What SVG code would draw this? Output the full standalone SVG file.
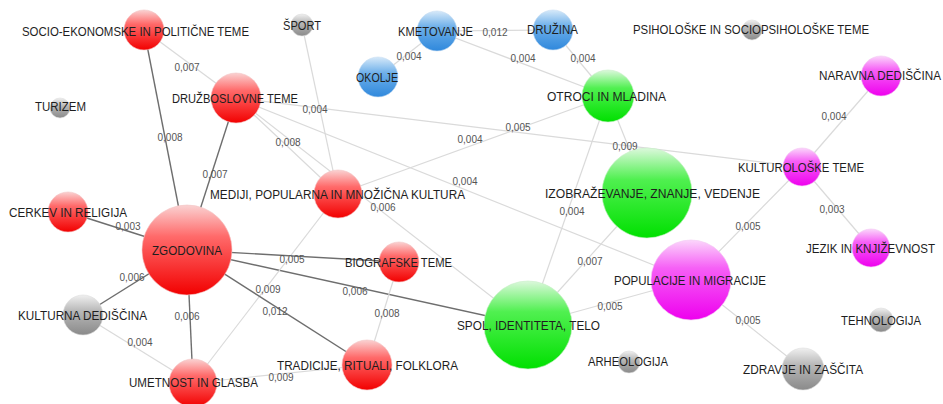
<svg xmlns="http://www.w3.org/2000/svg" width="943" height="404" viewBox="0 0 943 404">
<style>
.bg{fill:#fff}
.lt{stroke:#dadada;stroke-width:1.2;fill:none}
.dk{stroke:#6e6e6e;stroke-width:1.4;fill:none}
.el{font-family:"Liberation Sans",Arial,sans-serif;font-size:10px;fill:#555;text-anchor:middle}
.nl{font-family:"Liberation Sans",Arial,sans-serif;font-size:12px;fill:#1e1e1e}
.red{fill:url(#gRed);stroke:#f4c4c4;stroke-width:0.6}
.grn{fill:url(#gGrn);stroke:#c8f0c8;stroke-width:0.6}
.blu{fill:url(#gBlu);stroke:#c8def4;stroke-width:0.6}
.mag{fill:url(#gMag);stroke:#f4c8f4;stroke-width:0.6}
.gry{fill:url(#gGry);stroke:#dddddd;stroke-width:0.6}
</style>
<defs>
<linearGradient id="gRed" x1="0" y1="0" x2="0" y2="1">
<stop offset="0" stop-color="#fad2d2"/><stop offset="0.35" stop-color="#ff6a6a"/><stop offset="1" stop-color="#f20000"/>
</linearGradient>
<linearGradient id="gGrn" x1="0" y1="0" x2="0" y2="1">
<stop offset="0" stop-color="#dcf8dc"/><stop offset="0.35" stop-color="#50f050"/><stop offset="1" stop-color="#00e000"/>
</linearGradient>
<linearGradient id="gBlu" x1="0" y1="0" x2="0" y2="1">
<stop offset="0" stop-color="#d6e9f9"/><stop offset="0.4" stop-color="#6eb0ea"/><stop offset="1" stop-color="#2f88dc"/>
</linearGradient>
<linearGradient id="gMag" x1="0" y1="0" x2="0" y2="1">
<stop offset="0" stop-color="#fbd6fb"/><stop offset="0.35" stop-color="#f660f6"/><stop offset="1" stop-color="#ee00ee"/>
</linearGradient>
<linearGradient id="gGry" x1="0" y1="0" x2="0" y2="1">
<stop offset="0" stop-color="#f0f0f0"/><stop offset="0.4" stop-color="#b8b8b8"/><stop offset="1" stop-color="#8a8a8a"/>
</linearGradient>
</defs>
<rect class="bg" x="0" y="0" width="943" height="404"/>
<g id="connectors">
<line class="lt" x1="144" y1="30" x2="236" y2="98"/>
<line class="dk" x1="144" y1="30" x2="187" y2="250"/>
<line class="dk" x1="236" y1="98" x2="187" y2="250"/>
<line class="lt" x1="302" y1="25" x2="338" y2="194"/>
<line class="lt" x1="236" y1="98" x2="338" y2="194"/>
<line class="lt" x1="236" y1="98" x2="802" y2="167"/>
<line class="lt" x1="236" y1="98" x2="691" y2="280"/>
<line class="lt" x1="236" y1="98" x2="528" y2="325"/>
<line class="lt" x1="378" y1="77" x2="437" y2="31"/>
<line class="lt" x1="437" y1="31" x2="553" y2="30"/>
<line class="lt" x1="437" y1="31" x2="608" y2="96"/>
<line class="lt" x1="553" y1="30" x2="608" y2="96"/>
<line class="lt" x1="338" y1="194" x2="608" y2="96"/>
<line class="lt" x1="608" y1="96" x2="647" y2="193"/>
<line class="lt" x1="608" y1="96" x2="528" y2="325"/>
<line class="lt" x1="647" y1="193" x2="528" y2="325"/>
<line class="lt" x1="528" y1="325" x2="691" y2="280"/>
<line class="lt" x1="881" y1="76" x2="802" y2="167"/>
<line class="lt" x1="802" y1="167" x2="871" y2="248"/>
<line class="lt" x1="802" y1="167" x2="691" y2="280"/>
<line class="lt" x1="691" y1="280" x2="803" y2="369"/>
<line class="dk" x1="68" y1="212" x2="187" y2="250"/>
<line class="dk" x1="83" y1="315" x2="187" y2="250"/>
<line class="dk" x1="187" y1="250" x2="193" y2="383"/>
<line class="lt" x1="83" y1="315" x2="193" y2="383"/>
<line class="dk" x1="187" y1="250" x2="399" y2="262"/>
<line class="dk" x1="187" y1="250" x2="528" y2="325"/>
<line class="lt" x1="193" y1="383" x2="338" y2="194"/>
<line class="dk" x1="187" y1="250" x2="367" y2="365"/>
<line class="lt" x1="399" y1="262" x2="367" y2="365"/>
<line class="lt" x1="193" y1="383" x2="367" y2="365"/>
<text class="el" x="187" y="71">0,007</text>
<text class="el" x="170" y="141">0,008</text>
<text class="el" x="215" y="178">0,007</text>
<text class="el" x="315" y="113">0,004</text>
<text class="el" x="288" y="146">0,008</text>
<text class="el" x="518" y="131">0,005</text>
<text class="el" x="465" y="185">0,004</text>
<text class="el" x="383" y="211">0,006</text>
<text class="el" x="409" y="60">0,004</text>
<text class="el" x="495" y="36">0,012</text>
<text class="el" x="523" y="62">0,004</text>
<text class="el" x="583" y="62">0,004</text>
<text class="el" x="470" y="143">0,004</text>
<text class="el" x="625" y="150">0,009</text>
<text class="el" x="572" y="215">0,004</text>
<text class="el" x="590" y="265">0,007</text>
<text class="el" x="610" y="310">0,005</text>
<text class="el" x="834" y="120">0,004</text>
<text class="el" x="832" y="213">0,003</text>
<text class="el" x="748" y="230">0,005</text>
<text class="el" x="748" y="324">0,005</text>
<text class="el" x="128" y="230">0,003</text>
<text class="el" x="132" y="281">0,006</text>
<text class="el" x="187" y="320">0,006</text>
<text class="el" x="140" y="346">0,004</text>
<text class="el" x="292" y="263">0,005</text>
<text class="el" x="355" y="295">0,006</text>
<text class="el" x="268" y="293">0,009</text>
<text class="el" x="275" y="315">0,012</text>
<text class="el" x="387" y="317">0,008</text>
<text class="el" x="281" y="381">0,009</text>
</g>
<g id="n-socio"><circle class="red" cx="144" cy="30" r="20"/><text class="nl" x="22" y="35.5" textLength="227" lengthAdjust="spacingAndGlyphs">SOCIO-EKONOMSKE IN POLITIČNE TEME</text></g>
<g id="n-druzboslovne"><circle class="red" cx="236" cy="98" r="25"/><text class="nl" x="172" y="102.5" textLength="126" lengthAdjust="spacingAndGlyphs">DRUŽBOSLOVNE TEME</text></g>
<g id="n-turizem"><circle class="gry" cx="60" cy="108" r="10"/><text class="nl" x="35" y="110.5" textLength="51" lengthAdjust="spacingAndGlyphs">TURIZEM</text></g>
<g id="n-sport"><circle class="gry" cx="302" cy="25" r="11"/><text class="nl" x="283" y="30" textLength="38" lengthAdjust="spacingAndGlyphs">ŠPORT</text></g>
<g id="n-kmetovanje"><circle class="blu" cx="437" cy="31" r="20"/><text class="nl" x="398" y="36" textLength="75" lengthAdjust="spacingAndGlyphs">KMETOVANJE</text></g>
<g id="n-okolje"><circle class="blu" cx="378" cy="77" r="20"/><text class="nl" x="356" y="81.5" textLength="42" lengthAdjust="spacingAndGlyphs">OKOLJE</text></g>
<g id="n-druzina"><circle class="blu" cx="553" cy="30" r="20"/><text class="nl" x="527" y="34" textLength="51" lengthAdjust="spacingAndGlyphs">DRUŽINA</text></g>
<g id="n-psiholoske"><circle class="gry" cx="752" cy="30" r="10"/><text class="nl" x="633" y="34" textLength="236" lengthAdjust="spacingAndGlyphs">PSIHOLOŠKE IN SOCIOPSIHOLOŠKE TEME</text></g>
<g id="n-otroci"><circle class="grn" cx="608" cy="96" r="26"/><text class="nl" x="547" y="100.5" textLength="119" lengthAdjust="spacingAndGlyphs">OTROCI IN MLADINA</text></g>
<g id="n-naravna"><circle class="mag" cx="881" cy="76" r="20"/><text class="nl" x="819" y="79.5" textLength="122" lengthAdjust="spacingAndGlyphs">NARAVNA DEDIŠČINA</text></g>
<g id="n-kulturoloske"><circle class="mag" cx="802" cy="167" r="19"/><text class="nl" x="738" y="171.5" textLength="126" lengthAdjust="spacingAndGlyphs">KULTUROLOŠKE TEME</text></g>
<g id="n-mediji"><circle class="red" cx="338" cy="194" r="24"/><text class="nl" x="210" y="198.5" textLength="255" lengthAdjust="spacingAndGlyphs">MEDIJI, POPULARNA IN MNOŽIČNA KULTURA</text></g>
<g id="n-izobrazevanje"><circle class="grn" cx="647" cy="193" r="45"/><text class="nl" x="545" y="197.5" textLength="215" lengthAdjust="spacingAndGlyphs">IZOBRAŽEVANJE, ZNANJE, VEDENJE</text></g>
<g id="n-cerkev"><circle class="red" cx="68" cy="212" r="20"/><text class="nl" x="9" y="216.5" textLength="118" lengthAdjust="spacingAndGlyphs">CERKEV IN RELIGIJA</text></g>
<g id="n-zgodovina"><circle class="red" cx="187" cy="250" r="45"/><text class="nl" x="152" y="254.5" textLength="70" lengthAdjust="spacingAndGlyphs">ZGODOVINA</text></g>
<g id="n-biografske"><circle class="red" cx="399" cy="262" r="20"/><text class="nl" x="345" y="266.5" textLength="107" lengthAdjust="spacingAndGlyphs">BIOGRAFSKE TEME</text></g>
<g id="n-jezik"><circle class="mag" cx="871" cy="248" r="19"/><text class="nl" x="806" y="252.5" textLength="129" lengthAdjust="spacingAndGlyphs">JEZIK IN KNJIŽEVNOST</text></g>
<g id="n-populacije"><circle class="mag" cx="691" cy="280" r="40"/><text class="nl" x="614" y="284.5" textLength="152" lengthAdjust="spacingAndGlyphs">POPULACIJE IN MIGRACIJE</text></g>
<g id="n-kulturna"><circle class="gry" cx="83" cy="315" r="20"/><text class="nl" x="18" y="319.5" textLength="129" lengthAdjust="spacingAndGlyphs">KULTURNA DEDIŠČINA</text></g>
<g id="n-spol"><circle class="grn" cx="528" cy="325" r="44"/><text class="nl" x="457" y="329.5" textLength="143" lengthAdjust="spacingAndGlyphs">SPOL, IDENTITETA, TELO</text></g>
<g id="n-tehnologija"><circle class="gry" cx="881" cy="320" r="12"/><text class="nl" x="841" y="324.5" textLength="80" lengthAdjust="spacingAndGlyphs">TEHNOLOGIJA</text></g>
<g id="n-arheologija"><circle class="gry" cx="629" cy="362" r="11"/><text class="nl" x="588" y="365.5" textLength="80" lengthAdjust="spacingAndGlyphs">ARHEOLOGIJA</text></g>
<g id="n-tradicije"><circle class="red" cx="367" cy="365" r="25"/><text class="nl" x="277" y="369.5" textLength="181" lengthAdjust="spacingAndGlyphs">TRADICIJE, RITUALI, FOLKLORA</text></g>
<g id="n-umetnost"><circle class="red" cx="193" cy="383" r="24"/><text class="nl" x="129" y="386.5" textLength="129" lengthAdjust="spacingAndGlyphs">UMETNOST IN GLASBA</text></g>
<g id="n-zdravje"><circle class="gry" cx="803" cy="369" r="21"/><text class="nl" x="743" y="373.5" textLength="120" lengthAdjust="spacingAndGlyphs">ZDRAVJE IN ZAŠČITA</text></g>
</svg>
